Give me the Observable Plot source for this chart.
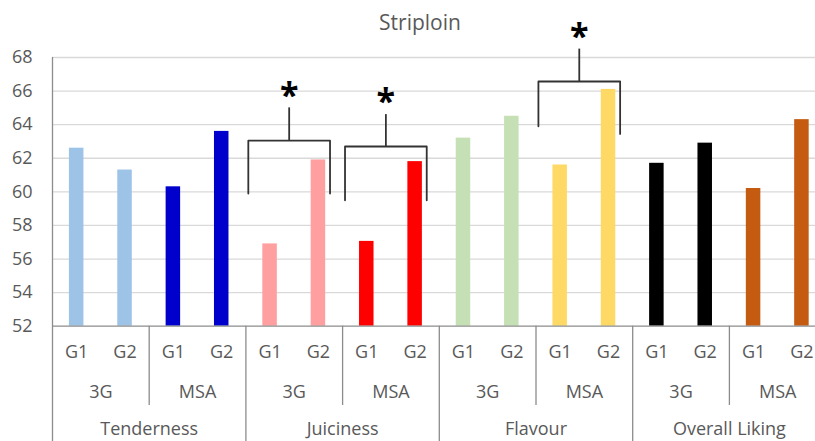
<!DOCTYPE html>
<html><head><meta charset="utf-8">
<script src="https://cdn.jsdelivr.net/npm/d3@7"></script>
<script src="https://cdn.jsdelivr.net/npm/@observablehq/plot@0.6"></script>
<style>
html,body{margin:0;padding:0;background:#fff;overflow:hidden;width:815px;height:441px;}
#wrap{position:relative;width:826px;height:441px;}
#title{position:absolute;left:0;top:8px;width:840px;text-align:center;font:21px "Open Sans", sans-serif;color:#595959;line-height:28px;}
#chart{position:absolute;left:0;top:0;}
</style></head><body><div id="wrap"><div id="chart"></div><div id="title">Striploin</div></div>
<script>
// ---- data ----
const attributes = ["Tenderness", "Juiciness", "Flavour", "Overall Liking"];
const systems = ["3G", "MSA"];
const groups = ["G1", "G2"];
// values in order attribute -> system -> group
const values = [62.6, 61.3, 60.3, 63.6,
                56.9, 61.9, 57.05, 61.8,
                63.2, 64.5, 61.6, 66.1,
                61.7, 62.9, 60.2, 64.3];
const colors = ["#9DC3E6", "#0000CC", "#FF9F9F", "#FF0000", "#C5E0B4", "#FFD966", "#000000", "#C55A11"];
const yTicks = [52, 54, 56, 58, 60, 62, 64, 66, 68];
// significance brackets (attribute, system) with levels
const sigAttr = ["Juiciness", "Juiciness", "Flavour"];
const sigSys = ["3G", "MSA", "MSA"];
const sigTop = [63.05, 62.7, 66.57];
const sigLeftEnd = [59.9, 59.5, 63.9];
const sigRightEnd = [59.9, 59.5, 63.45];
const sigStemTop = [65.0, 64.6, 68.5];

// ---- table ----
const rows = [];
attributes.forEach((a, ai) => systems.forEach((s, si) => groups.forEach((g, gi) => {
  const i = ai * 4 + si * 2 + gi;
  rows.push({attribute: a, system: s, group: g, i, value: values[i], color: colors[ai * 2 + si]});
})));
const subgroups = [];
attributes.forEach((a, ai) => systems.forEach((s, si) => subgroups.push({label: s, start: ai * 4 + si * 2})));
const attrRows = attributes.map((a, ai) => ({label: a, start: ai * 4}));

const brackets = sigAttr.map((a, k) => {
  const start = attributes.indexOf(a) * 4 + systems.indexOf(sigSys[k]) * 2;
  return {start, top: sigTop[k], le: sigLeftEnd[k], re: sigRightEnd[k], stem: sigStemTop[k]};
});
const bracketPts = [];
brackets.forEach((b, k) => {
  const L = b.start + 0.05, R = b.start + 1.74;
  bracketPts.push({k, x: L, y: b.le}, {k, x: L, y: b.top}, {k, x: R, y: b.top}, {k, x: R, y: b.re});
  b.mid = (L + R) / 2;
});

const H = 480, mTop = 57, baseY = 325.7;
const frameH = baseY - mTop;
const axisGray = "#8C8C8C";
const font = "'Open Sans', sans-serif";

const plot = Plot.plot({
  width: 826, height: H,
  marginTop: mTop, marginBottom: H - baseY, marginLeft: 52, marginRight: 0.4,
  style: {fontFamily: font, fontSize: "18px", color: "#595959", background: "white", overflow: "visible"},
  x: {domain: [0, 16], axis: null},
  y: {domain: [52, 68], ticks: yTicks, tickSize: 0, tickPadding: 20, label: null, tickFormat: d => String(d)},
  marks: [
    Plot.ruleY(yTicks.filter(t => t > 52), {stroke: "#D9D9D9", strokeWidth: 1.3}),
    Plot.rect(rows, {x1: d => d.i + 0.35, x2: d => d.i + 0.65, y1: 52, y2: "value", fill: "color"}),
    Plot.ruleY([52], {stroke: axisGray, strokeWidth: 1.3}),
    Plot.ruleX([0], {stroke: axisGray, strokeWidth: 1.3, insetBottom: -200}),
    Plot.ruleX(attrRows.map(d => d.start + 4), {stroke: axisGray, strokeWidth: 1.3, insetTop: frameH, insetBottom: -200}),
    Plot.ruleX(subgroups.filter((d, j) => j % 2 === 1).map(d => d.start), {stroke: axisGray, strokeWidth: 1.3, insetTop: frameH, insetBottom: -(405 - baseY)}),
    Plot.text(rows, {x: d => d.i + 0.5, text: "group", frameAnchor: "bottom", dy: 32, fill: "#595959", fontSize: 18}),
    Plot.text(subgroups, {x: d => d.start + 1, text: "label", frameAnchor: "bottom", dy: 72, fill: "#595959", fontSize: 18}),
    Plot.text(attrRows, {x: d => d.start + 2, text: "label", frameAnchor: "bottom", dy: 109, fill: "#595959", fontSize: 18}),
    Plot.line(bracketPts, {x: "x", y: "y", z: "k", stroke: "#333333", strokeWidth: 1.8}),
    Plot.ruleX(brackets, {x: "mid", y1: "top", y2: "stem", stroke: "#333333", strokeWidth: 1.8}),
    Plot.text(brackets, {x: "mid", y: "stem", text: () => "*", fill: "#000", fontSize: 34, fontWeight: "bold", dy: -12})
  ]
});
document.getElementById("chart").appendChild(plot);
</script>
</body></html>
